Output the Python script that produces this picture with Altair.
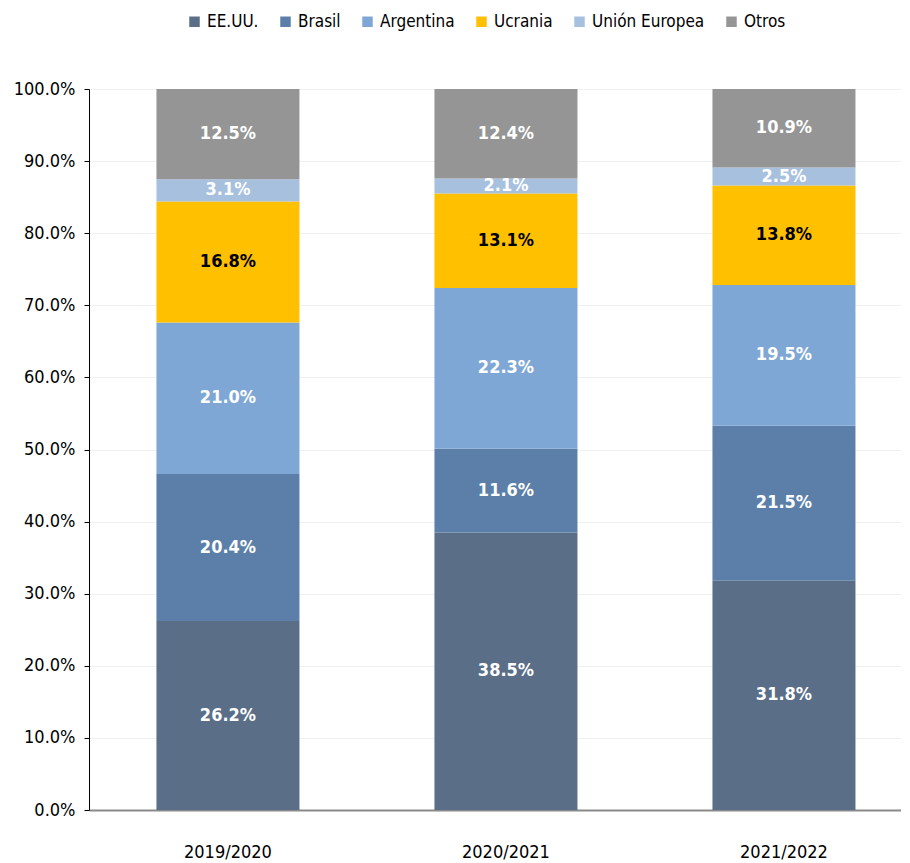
import altair as alt
import pandas as pd

FONT = "Liberation Sans Narrow, Arial Narrow, DejaVu Sans Condensed, sans-serif"

seasons = ["2019/2020", "2020/2021", "2021/2022"]
countries = ["EE.UU.", "Brasil", "Argentina", "Ucrania", "Unión Europea", "Otros"]
colors = ["#5a6e88", "#5b7fa9", "#7fa7d5", "#ffc000", "#a6c0de", "#959595"]
label_colors = ["white", "white", "white", "black", "white", "white"]

eeuu = [26.2, 38.5, 31.8]
brasil = [20.4, 11.6, 21.5]
argentina = [21.0, 22.3, 19.5]
ucrania = [16.8, 13.1, 13.8]
ue = [3.1, 2.1, 2.5]
otros = [12.5, 12.4, 10.9]

series = [eeuu, brasil, argentina, ucrania, ue, otros]
rows = []
for ci, (name, vals) in enumerate(zip(countries, series)):
    for si, s in enumerate(seasons):
        rows.append({"season": s, "country": name, "order": ci,
                     "value": vals[si] / 100.0, "tcolor": label_colors[ci]})
df = pd.DataFrame(rows)

base = alt.Chart(df).transform_stack(
    stack="value", groupby=["season"], as_=["lo", "hi"],
    sort=[alt.SortField("order", order="ascending")]
).transform_calculate(mid="(datum.lo + datum.hi) / 2")

W = 812
xscale = alt.Scale(domain=seasons, paddingInner=0.4856, paddingOuter=0.2032, align=0.597)
yscale = alt.Scale(domain=[0, 1], nice=False)

bars = base.mark_bar().encode(
    x=alt.X("season:N", scale=xscale, sort=seasons,
            axis=alt.Axis(title=None, labelAngle=0, ticks=False, domainColor="#8a8a8a",
                          domainWidth=2, labelFontSize=18, labelColor="black",
                          labelPadding=33, grid=False)),
    y=alt.Y("lo:Q", scale=yscale,
            axis=alt.Axis(title=None, format=".1%", values=[i / 10 for i in range(11)],
                          grid=True, gridColor="#f0f0f0", domainColor="black",
                          tickColor="black", tickSize=5, labelFontSize=18,
                          labelColor="black", labelPadding=9,
                          minExtent=74, maxExtent=74)),
    y2="hi:Q",
    color=alt.Color("country:N", scale=alt.Scale(domain=countries, range=colors),
                    legend=alt.Legend(title=None, orient="none", direction="horizontal",
                                      legendX=97, legendY=-76,
                                      symbolType="square", symbolSize=110,
                                      symbolStrokeWidth=0, labelFontSize=17,
                                      labelColor="black", columnPadding=18,
                                      labelOffset=4, columns=6)),
    order=alt.Order("order:Q"),
)

labels = base.mark_text(fontSize=18, fontWeight="bold", font=FONT).encode(
    x=alt.X("season:N", scale=xscale, sort=seasons),
    y=alt.Y("mid:Q", scale=yscale),
    text=alt.Text("value:Q", format=".1%"),
    color=alt.Color("tcolor:N", scale=None),
)

chart = alt.layer(bars, labels).properties(
    width=W, height=721,
    padding={"left": 5, "top": 5, "right": 0, "bottom": 5},
).configure(font=FONT).configure_view(stroke=None)

chart.save("out.html", embed_options={"renderer": "svg", "actions": False})
